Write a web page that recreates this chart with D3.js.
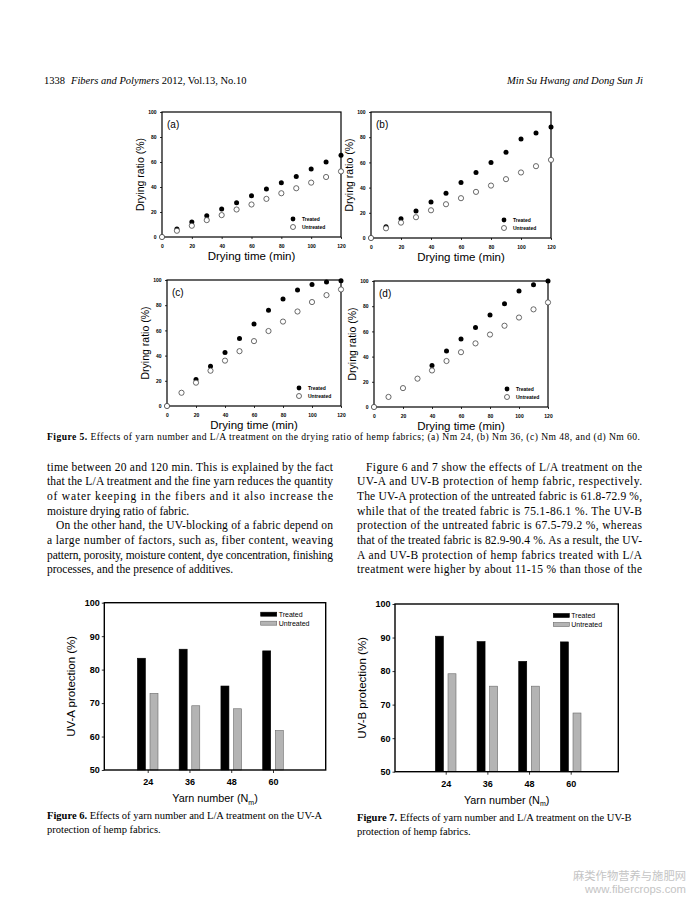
<!DOCTYPE html>
<html>
<head>
<meta charset="UTF-8">
<title>Fibers and Polymers 2012, p.1338</title>
<script src="https://cdn.jsdelivr.net/npm/d3@7"></script>
<style>
body{margin:0;background:#fff}
</style>
</head>
<body>
<script>
// Figure 5 : drying ratio (%) vs drying time (min)
var dryTime = [0,10,20,30,40,50,60,70,80,90,100,110,120];
var treatedA   = [0,6.5,12,17,22.5,27.5,33,38.5,43.5,48.5,54.5,60,65.5];
var untreatedA = [0,5,9,13.5,17.5,22,26,30.5,35,39,43.5,48,52.5];
var treatedB   = [0,9,15.3,21.5,28.5,35.5,44,52,60,68,78.5,83.3,88];
var untreatedB = [0,7.7,12.2,16.5,22,26.8,31.6,36.6,41.6,46.7,52,57,62];
var treatedC   = [0,null,21,31.5,42.5,53.5,65,76,85,92,96.5,98.5,99.5];
var untreatedC = [0,10.5,18.5,28,36,43.5,51.5,59.5,67,75,82.5,88,92.5];
var treatedD   = [0,null,null,null,33,44.5,54,63,73,82,92,97,100];
var untreatedD = [0,8,15,22.5,29,36.5,43.5,50.5,57.5,64.5,71,77.5,83];
var dryTicks = [0,20,40,60,80,100,120];
var ratioTicks = [0,20,40,60,80,100];

// Figure 6 / 7 : UV protection (%) by yarn number
var yarnNumber = ["24","36","48","60"];
var uvaTreated   = [83.4,86.1,75.1,85.6];
var uvaUntreated = [72.9,69.2,68.3,61.8];
var uvbTreated   = [90.4,88.8,82.9,88.7];
var uvbUntreated = [79.2,75.5,75.5,67.5];
var protTicks = [50,60,70,80,90,100];
var series = ["Treated","Untreated"];

var SANS = "Liberation Sans, Arial, sans-serif";
var SERIF = "Liberation Serif, Times New Roman, serif";

var svg = d3.select("body").append("svg")
	.attr("width",688)
	.attr("height",897)
	.style("display","block");
svg.append("rect").attr("width",688).attr("height",897).attr("fill","#fff");

//remove the d3 axis defaults and set our own look
function styleAxis(sel,size,bold){
	sel.select(".domain").remove();
	sel.attr("font-family",SANS).attr("font-size",size);
	sel.selectAll("text").attr("font-weight",bold?"bold":"normal").attr("fill","#000");
	sel.selectAll("line").attr("stroke","#000").attr("stroke-width",0.8);
}

//---------- page header ----------
var head = svg.append("text").attr("x",44).attr("y",84)
	.attr("font-family",SERIF).attr("font-size",10.5);
head.append("tspan").text("1338");
head.append("tspan").attr("x",71).attr("font-style","italic").text("Fibers and Polymers");
head.append("tspan").text(" 2012, Vol.13, No.10");
svg.append("text").attr("x",643).attr("y",84).attr("text-anchor","end")
	.attr("font-family",SERIF).attr("font-size",10.5).attr("font-style","italic")
	.text("Min Su Hwang and Dong Sun Ji");

//---------- Figure 5 panels ----------
var panels = [
	{lab:"(a)",t:treatedA,u:untreatedA,x0:162,x1:341,y0:112,y1:237,lx:48},
	{lab:"(b)",t:treatedB,u:untreatedB,x0:371,x1:551,y0:112,y1:238,lx:47},
	{lab:"(c)",t:treatedC,u:untreatedC,x0:167,x1:341,y0:280,y1:406,lx:42},
	{lab:"(d)",t:treatedD,u:untreatedD,x0:374,x1:548,y0:281,y1:407,lx:41}
];

panels.forEach(function(p){
	var x = d3.scaleLinear().domain([0,120]).range([p.x0,p.x1]);
	var y = d3.scaleLinear().domain([0,100]).range([p.y1,p.y0]);
	var g = svg.append("g");

	g.append("g").attr("transform","translate(0,"+p.y1+")")
		.call(d3.axisBottom(x).tickValues(dryTicks).tickSize(2).tickPadding(5.5))
		.call(styleAxis,5,true);
	g.append("g").attr("transform","translate("+p.x0+",0)")
		.call(d3.axisLeft(y).tickValues(ratioTicks).tickSize(2).tickPadding(3.5))
		.call(styleAxis,5,true);

	g.append("rect")
		.attr("x",p.x0).attr("y",p.y0)
		.attr("width",p.x1-p.x0).attr("height",p.y1-p.y0)
		.attr("fill","none").attr("stroke","#000").attr("stroke-width",1.2);

	var pts = dryTime.map(function(d,i){return {x:d,t:p.t[i],u:p.u[i]};});
	g.selectAll(".tr").data(pts.filter(function(d){return d.t!=null;}))
		.enter().append("circle")
		.attr("cx",function(d){return x(d.x);})
		.attr("cy",function(d){return y(d.t);})
		.attr("r",2.5).attr("fill","#000");
	g.selectAll(".un").data(pts)
		.enter().append("circle")
		.attr("cx",function(d){return x(d.x);})
		.attr("cy",function(d){return y(d.u);})
		.attr("r",2.6).attr("fill","#fff").attr("stroke","#444").attr("stroke-width",0.8);

	g.append("text").attr("x",p.x0+5).attr("y",p.y0+16)
		.attr("font-family",SANS).attr("font-size",10).text(p.lab);

	//legend
	var lx = p.x1-p.lx;
	g.append("circle").attr("cx",lx).attr("cy",p.y1-18).attr("r",2.4).attr("fill","#000");
	g.append("circle").attr("cx",lx).attr("cy",p.y1-10).attr("r",2.5)
		.attr("fill","#fff").attr("stroke","#444").attr("stroke-width",0.8);
	g.selectAll(".lt").data(series).enter().append("text")
		.attr("x",lx+9).attr("y",function(d,i){return p.y1-16.2+8*i;})
		.attr("font-family",SANS).attr("font-size",5).attr("font-weight","bold")
		.text(function(d){return d;});

	g.append("text")
		.attr("transform","translate("+(p.x0-21.5)+","+((p.y0+p.y1)/2)+") rotate(-90)")
		.attr("text-anchor","middle").attr("dy","0.35em")
		.attr("font-family",SANS).attr("font-size",10.5)
		.text("Drying ratio (%)");
	g.append("text")
		.attr("x",(p.x0+p.x1)/2).attr("y",p.y1+23)
		.attr("text-anchor","middle")
		.attr("font-family",SANS).attr("font-size",11.5)
		.text("Drying time (min)");
});

var cap5 = svg.append("text").attr("x",47).attr("y",440)
	.attr("font-family",SERIF).attr("font-size",9.6)
	.attr("textLength",593).attr("lengthAdjust","spacing");
cap5.append("tspan").attr("font-weight","bold").text("Figure 5.");
cap5.append("tspan").text(" Effects of yarn number and L/A treatment on the drying ratio of hemp fabrics; (a) Nm 24, (b) Nm 36, (c) Nm 48, and (d) Nm 60.");

//---------- body text ----------
function column(x,y,w,lines){
	lines.forEach(function(l,i){
		var ind = l.ind?9:0;
		var t = svg.append("text").attr("x",x+ind).attr("y",y+i*14.7)
			.attr("font-family",SERIF).attr("font-size",11.5).text(l.s);
		if(!l.last) t.attr("textLength",w-ind).attr("lengthAdjust","spacing");
	});
}
column(47,470.5,286,[
	{s:"time between 20 and 120 min. This is explained by the fact"},
	{s:"that the L/A treatment and the fine yarn reduces the quantity"},
	{s:"of water keeping in the fibers and it also increase the"},
	{s:"moisture drying ratio of fabric.",last:true},
	{s:"On the other hand, the UV-blocking of a fabric depend on",ind:true},
	{s:"a large number of factors, such as, fiber content, weaving"},
	{s:"pattern, porosity, moisture content, dye concentration, finishing"},
	{s:"processes, and the presence of additives.",last:true}
]);
column(357,470.5,285,[
	{s:"Figure 6 and 7 show the effects of L/A treatment on the",ind:true},
	{s:"UV-A and UV-B protection of hemp fabric, respectively."},
	{s:"The UV-A protection of the untreated fabric is 61.8-72.9 %,"},
	{s:"while that of the treated fabric is 75.1-86.1 %. The UV-B"},
	{s:"protection of the untreated fabric is 67.5-79.2 %, whereas"},
	{s:"that of the treated fabric is 82.9-90.4 %. As a result, the UV-"},
	{s:"A and UV-B protection of hemp fabrics treated with L/A"},
	{s:"treatment were higher by about 11-15 % than those of the"}
]);

//---------- Figure 6 / 7 bar charts ----------
var bars = [
	{t:uvaTreated,u:uvaUntreated,lab:"UV-A protection (%)",x0:104.3,x1:325.7,y0:602.7,y1:770,pl:43.4,pr:52.7},
	{t:uvbTreated,u:uvbUntreated,lab:"UV-B protection (%)",x0:395,x1:618.3,y0:604,y1:771.7,pl:50.7,pr:47.6}
];
var sub = d3.scaleBand().domain(series).range([-10.3,10.3]).paddingInner(0.365);
var fills = {"Treated":"#000","Untreated":"#b4b4b4"};
var strokes = {"Treated":"#000","Untreated":"#6a6a6a"};

bars.forEach(function(b){
	var x = d3.scalePoint().domain(yarnNumber).range([b.x0+b.pl,b.x1-b.pr]);
	var y = d3.scaleLinear().domain([50,100]).range([b.y1,b.y0]);
	var g = svg.append("g");

	g.append("g").attr("transform","translate(0,"+b.y1+")")
		.call(d3.axisBottom(x).tickSize(3).tickPadding(5.5))
		.call(styleAxis,9,true);
	g.append("g").attr("transform","translate("+b.x0+",0)")
		.call(d3.axisLeft(y).tickValues(protTicks).tickSize(2.5).tickPadding(2))
		.call(styleAxis,9,true);

	var rows = [];
	yarnNumber.forEach(function(n,i){
		rows.push({n:n,s:"Treated",v:b.t[i]});
		rows.push({n:n,s:"Untreated",v:b.u[i]});
	});
	g.selectAll(".bar").data(rows).enter().append("rect")
		.attr("x",function(d){return x(d.n)+sub(d.s);})
		.attr("y",function(d){return y(d.v);})
		.attr("width",sub.bandwidth())
		.attr("height",function(d){return b.y1-y(d.v);})
		.attr("fill",function(d){return fills[d.s];})
		.attr("stroke",function(d){return strokes[d.s];})
		.attr("stroke-width",0.6);

	g.append("rect")
		.attr("x",b.x0).attr("y",b.y0)
		.attr("width",b.x1-b.x0).attr("height",b.y1-b.y0)
		.attr("fill","none").attr("stroke","#000").attr("stroke-width",1.4);

	//legend
	series.forEach(function(s,i){
		g.append("rect").attr("x",b.x1-65).attr("y",b.y0+9.5+9*i)
			.attr("width",16).attr("height",4)
			.attr("fill",fills[s]).attr("stroke",strokes[s]).attr("stroke-width",0.6);
		g.append("text").attr("x",b.x1-47).attr("y",b.y0+14+9*i)
			.attr("font-family",SANS).attr("font-size",7).text(s);
	});

	g.append("text")
		.attr("transform","translate("+(b.x0-33)+","+((b.y0+b.y1)/2)+") rotate(-90)")
		.attr("text-anchor","middle").attr("dy","0.35em")
		.attr("font-family",SANS).attr("font-size",11.5)
		.text(b.lab);
	var xl = g.append("text")
		.attr("x",(b.x0+b.x1)/2).attr("y",b.y1+32)
		.attr("text-anchor","middle")
		.attr("font-family",SANS).attr("font-size",10.8);
	xl.append("tspan").text("Yarn number (N");
	xl.append("tspan").attr("dy",2.5).attr("font-size",7).text("m");
	xl.append("tspan").attr("dy",-2.5).text(")");
});

//---------- captions ----------
function caption(x,y,num,l1,l2){
	var t = svg.append("text").attr("x",x).attr("y",y)
		.attr("font-family",SERIF).attr("font-size",10.5);
	t.append("tspan").attr("font-weight","bold").text(num);
	t.append("tspan").text(l1);
	svg.append("text").attr("x",x).attr("y",y+13.5)
		.attr("font-family",SERIF).attr("font-size",10.5).text(l2);
}
caption(47,819,"Figure 6."," Effects of yarn number and L/A treatment on the UV-A","protection of hemp fabrics.");
caption(357,821,"Figure 7."," Effects of yarn number and L/A treatment on the UV-B","protection of hemp fabrics.");

//watermark
svg.append("text").attr("x",686).attr("y",880).attr("text-anchor","end")
	.attr("font-family","Noto Sans CJK SC, sans-serif").attr("font-size",11.3)
	.attr("fill","#c4c4c4").text("麻类作物营养与施肥网");
svg.append("text").attr("x",686).attr("y",893).attr("text-anchor","end")
	.attr("font-family",SANS).attr("font-size",11.3)
	.attr("fill","#c4c4c4").text("www.fibercrops.com");
</script>
</body>
</html>
